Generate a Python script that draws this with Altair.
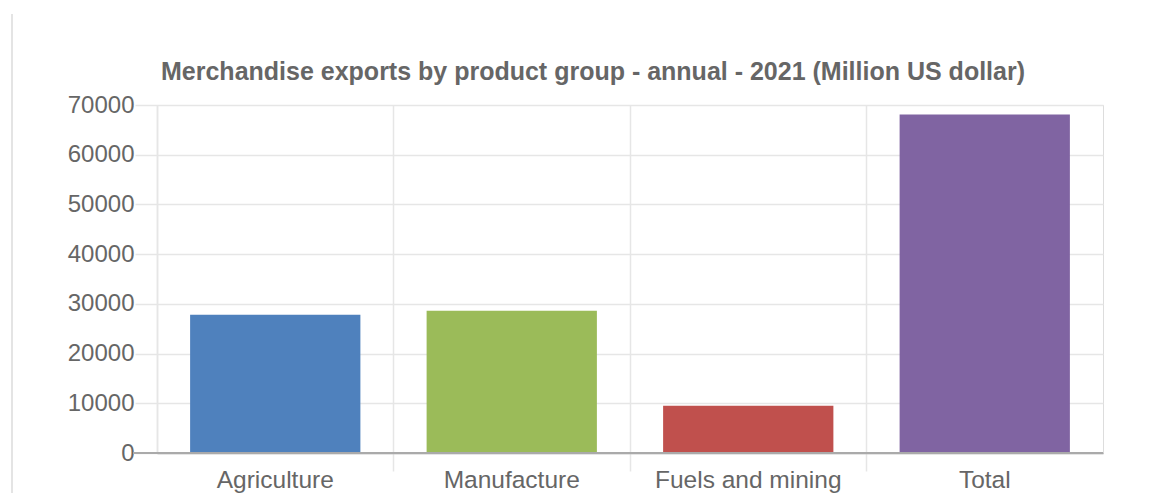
import altair as alt
import pandas as pd

categories = ["Agriculture", "Manufacture", "Fuels and mining", "Total"]
values = [27800, 28600, 9500, 68100]
colors = ["#4f81bd", "#9bbb59", "#c0504d", "#8064a2"]
y_ticks = [0, 10000, 20000, 30000, 40000, 50000, 60000, 70000]
title_text = "Merchandise exports by product group - annual - 2021 (Million US dollar)"

df = pd.DataFrame({"category": categories, "value": values})

FONT = "Liberation Sans"
GRID = "#e6e6e6"

bars = alt.Chart(df).mark_bar(width=alt.RelativeBandSize(0.72)).encode(
    x=alt.X(
        "category:N",
        sort=categories,
        title=None,
        scale=alt.Scale(paddingInner=0, paddingOuter=0),
        axis=alt.Axis(
            labelAngle=0,
            labelFont=FONT,
            labelFontSize=24.5,
            labelColor="#666666",
            labelPadding=-3,
            labelLimit=0,
            bandPosition=0,
            grid=True,
            gridColor=GRID,
            gridWidth=1.5,
            ticks=True,
            tickSize=18,
            tickWidth=1.5,
            tickColor={"condition": {"test": "datum.value === 'Agriculture'", "value": "transparent"}, "value": GRID},
            domainColor="#aaaaaa",
            domainWidth=1.5,
        ),
    ),
    y=alt.Y(
        "value:Q",
        title=None,
        scale=alt.Scale(domain=[0, 70000], nice=False),
        axis=alt.Axis(
            values=y_ticks,
            format="d",
            labelFont=FONT,
            labelFontSize=24,
            labelColor="#666666",
            labelPadding=1,
            tickSize=22,
            tickColor=GRID,
            tickWidth=1.5,
            gridColor=GRID,
            gridWidth=1.5,
            domainColor=GRID,
            domainWidth=1.5,
        ),
    ),
    color=alt.Color("category:N", scale=alt.Scale(domain=categories, range=colors), legend=None),
)

zero = alt.Chart(df).mark_rule(color="#aaaaaa", strokeWidth=1.5).encode(
    y=alt.datum(0), x=alt.value(-24), x2=alt.value(946)
)

border = alt.Chart(df).mark_rule(color="#e4e4e4", strokeWidth=2).encode(
    x=alt.value(-145), y=alt.value(-91), y2=alt.value(420)
)

chart = (
    alt.layer(bars, zero, border)
    .properties(
        width=946,
        height=348,
        title=alt.TitleParams(
            title_text,
            font=FONT,
            fontSize=25,
            fontWeight="bold",
            color="#666666",
            anchor="middle",
            frame="group",
            baseline="alphabetic",
            dx=-37,
            offset=-92,
        ),
        autosize=alt.AutoSizeParams(type="none"),
        padding={"left": 149, "top": 97, "right": 40, "bottom": 40},
    )
    .configure_view(stroke=None)
    .configure(background="white")
)

chart.save("out.html", embed_options={"renderer": "svg", "actions": False})
